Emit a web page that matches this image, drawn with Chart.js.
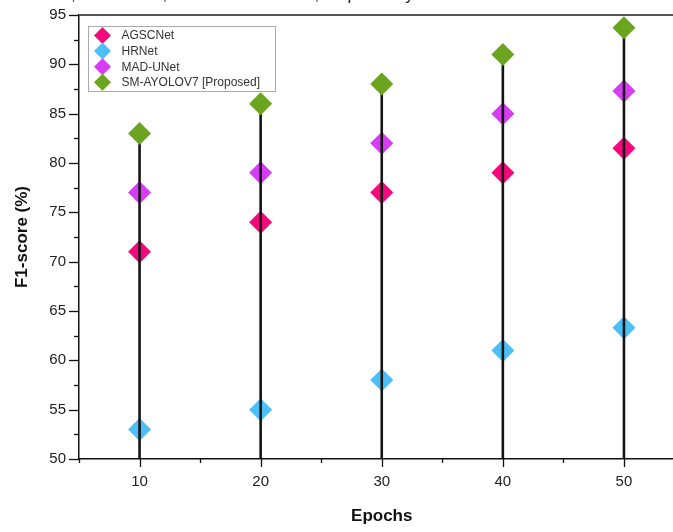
<!DOCTYPE html>
<html>
<head>
<meta charset="utf-8">
<script src="https://cdn.jsdelivr.net/npm/chart.js@4/dist/chart.umd.min.js"></script>
<style>
  html, body { margin: 0; padding: 0; background: #fff; overflow: hidden; }
  #wrap { position: absolute; left: 0; top: 0; width: 696px; height: 532px; }
  #caption {
    position: absolute; left: 20px; top: -15px;
    font: 17px 'Liberation Sans', Arial, sans-serif; color: #222; white-space: nowrap;
  }
</style>
</head>
<body>
<div id="wrap">
  <canvas id="f1Chart" width="696" height="532"></canvas>
  <div id="caption">HRNet, MAD-UNet, and SM-AYOLOV7, respectively.</div>
</div>
<script>
// エポック数
const epochs = [10, 20, 30, 40, 50];

// 各モデルのF1スコア (%)
const agscnet = [71, 74, 77, 79, 81.5];
const hrnet = [53, 55, 58, 61, 63.3];
const madunet = [77, 79, 82, 85, 87.3];
const smayolov7 = [83, 86, 88, 91, 93.7];

const seriesNames = ['AGSCNet', 'HRNet', 'MAD-UNet', 'SM-AYOLOV7 [Proposed]'];
const seriesColors = ['#f5087c', '#4dbff7', '#d63cf4', '#6ba51f'];

// 軸の目盛り
const xTickLabels = [10, 20, 30, 40, 50];
const yTickLabels = [50, 55, 60, 65, 70, 75, 80, 85, 90, 95];

const FONT = "'Liberation Sans', Arial, sans-serif";

function toPoints(values) {
  return epochs.map((e, i) => ({ x: e, y: values[i] }));
}

// 緑の点から軸まで縦線を引く（緑のマーカーの下）
const dropLines = {
  id: 'dropLines',
  beforeDatasetDraw(chart, args) {
    if (args.index !== 3) return;
    const ctx = chart.ctx;
    const bottom = chart.chartArea.bottom;
    ctx.save();
    ctx.strokeStyle = '#141414';
    ctx.lineWidth = 2.6;
    args.meta.data.forEach(pt => {
      ctx.beginPath();
      ctx.moveTo(pt.x, pt.y);
      ctx.lineTo(pt.x, bottom);
      ctx.stroke();
    });
    ctx.restore();
  }
};

// 目盛り線と上枠
const axisTicks = {
  id: 'axisTicks',
  afterDraw(chart) {
    const ctx = chart.ctx;
    const { left, right, top, bottom } = chart.chartArea;
    const xs = chart.scales.x;
    const ys = chart.scales.y;
    ctx.save();
    ctx.strokeStyle = '#111';
    ctx.lineWidth = 1.3;
    for (let v = ys.min; v <= ys.max + 0.01; v += 2.5) {
      const y = Math.round(ys.getPixelForValue(v)) + 0.5;
      const len = yTickLabels.includes(v) ? 10 : 5;
      ctx.beginPath();
      ctx.moveTo(left - len, y);
      ctx.lineTo(left, y);
      ctx.stroke();
    }
    for (let v = xs.min; v <= xs.max + 0.01; v += 5) {
      const x = Math.round(xs.getPixelForValue(v)) + 0.5;
      const len = xTickLabels.includes(v) ? 8 : 4;
      ctx.beginPath();
      ctx.moveTo(x, bottom);
      ctx.lineTo(x, bottom + len);
      ctx.stroke();
    }
    // 上枠
    ctx.strokeStyle = '#555';
    ctx.lineWidth = 2;
    ctx.beginPath();
    ctx.moveTo(left, top);
    ctx.lineTo(right, top);
    ctx.stroke();
    ctx.restore();
  }
};

// 凡例（プロット内の左上）
const boxLegend = {
  id: 'boxLegend',
  afterDraw(chart) {
    const ctx = chart.ctx;
    const bx = chart.chartArea.left + 9.5;
    const by = chart.chartArea.top + 11.5;
    ctx.save();
    ctx.fillStyle = '#fff';
    ctx.strokeStyle = '#aaa';
    ctx.lineWidth = 1;
    ctx.fillRect(bx, by, 187, 65);
    ctx.strokeRect(bx, by, 187, 65);
    ctx.font = '12px ' + FONT;
    ctx.textBaseline = 'middle';
    chart.data.datasets.forEach((ds, i) => {
      const cy = by + 9 + i * 15.6;
      const cx = bx + 14;
      const r = 8.5;
      ctx.fillStyle = ds.backgroundColor;
      ctx.beginPath();
      ctx.moveTo(cx, cy - r);
      ctx.lineTo(cx + r, cy);
      ctx.lineTo(cx, cy + r);
      ctx.lineTo(cx - r, cy);
      ctx.closePath();
      ctx.fill();
      ctx.fillStyle = '#333';
      ctx.fillText(ds.label, bx + 33, cy + 0.5);
    });
    ctx.restore();
  }
};

document.addEventListener('DOMContentLoaded', function() {
  const ctx = document.getElementById('f1Chart').getContext('2d');
  const allValues = [agscnet, hrnet, madunet, smayolov7];

  new Chart(ctx, {
    type: 'scatter',
    data: {
      datasets: allValues.map((vals, i) => ({
        label: seriesNames[i],
        data: toPoints(vals),
        backgroundColor: seriesColors[i],
        borderColor: seriesColors[i],
        borderWidth: 0,
        pointStyle: 'rectRot',
        pointRadius: 11.5,
        pointHoverRadius: 11.5,
        order: i === 3 ? 0 : 1
      }))
    },
    options: {
      responsive: false,
      maintainAspectRatio: false,
      animation: false,
      layout: { padding: { top: 15, right: 0, left: 0, bottom: 0 } },
      scales: {
        x: {
          type: 'linear',
          min: 5,
          max: 55,
          afterFit(scale) {
            scale.height = 73;
            scale.paddingLeft = 0;
            scale.paddingRight = 0;
          },
          grid: { display: false, drawTicks: false },
          border: { display: true, color: '#111', width: 1.5 },
          ticks: {
            stepSize: 5,
            padding: 14,
            color: '#222',
            font: { family: FONT, size: 15 },
            callback: v => xTickLabels.includes(v) ? v : ''
          },
          title: {
            display: true,
            text: 'Epochs',
            color: '#111',
            font: { family: FONT, size: 17, weight: 'bold' },
            padding: { top: 5, bottom: 5 }
          }
        },
        y: {
          min: 50,
          max: 95,
          afterFit(scale) {
            scale.width = 79;
            scale.paddingTop = 0;
            scale.paddingBottom = 0;
          },
          grid: { display: false, drawTicks: false },
          border: { display: true, color: '#111', width: 1.5 },
          ticks: {
            stepSize: 5,
            padding: 13,
            color: '#222',
            font: { family: FONT, size: 15 },
            callback: v => yTickLabels.includes(v) ? v : ''
          },
          title: {
            display: true,
            text: 'F1-score (%)',
            color: '#111',
            font: { family: FONT, size: 17, weight: 'bold' },
            padding: { top: 12, bottom: 0 }
          }
        }
      },
      plugins: {
        legend: { display: false },
        tooltip: { enabled: false }
      }
    },
    plugins: [dropLines, axisTicks, boxLegend]
  });
});
</script>
</body>
</html>
